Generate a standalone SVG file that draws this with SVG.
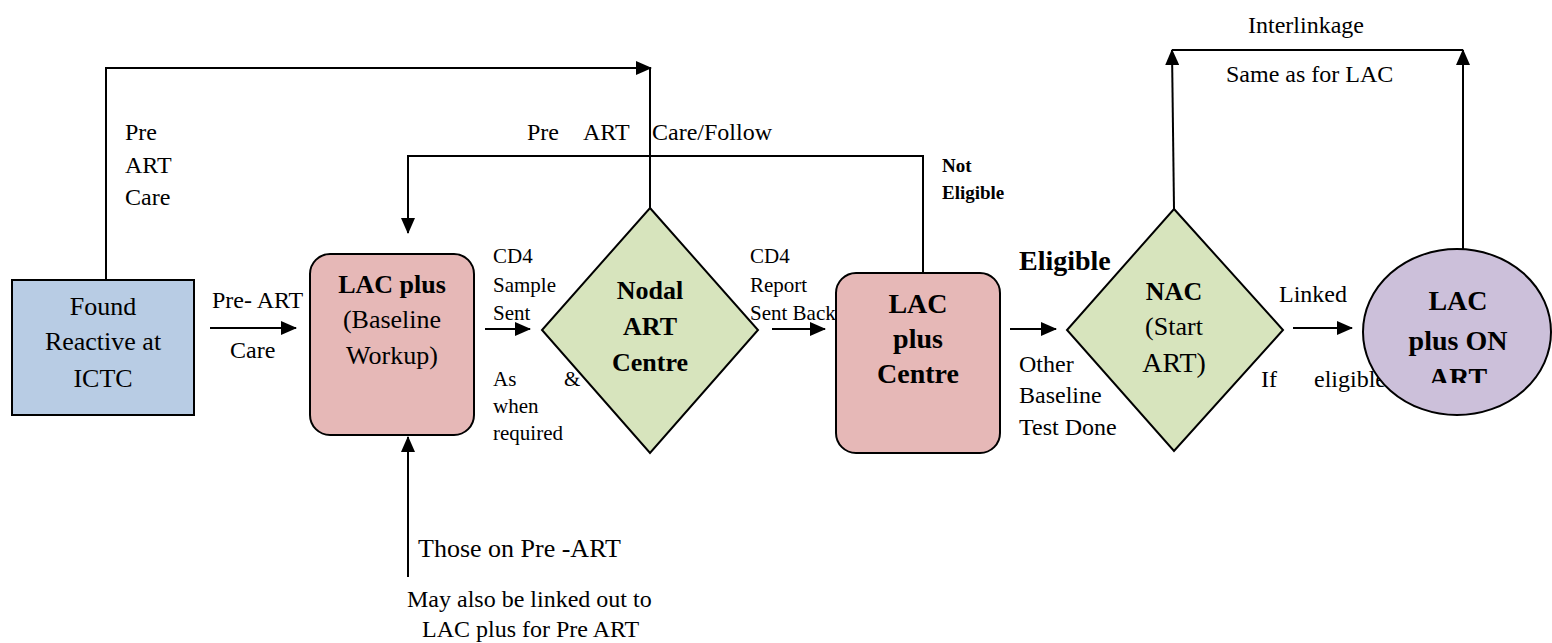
<svg xmlns="http://www.w3.org/2000/svg" width="1552" height="643" viewBox="0 0 1552 643" font-family="'Liberation Serif', 'DejaVu Serif', 'Times New Roman', serif">
<style>
text{font-family:'Liberation Serif','DejaVu Serif','Times New Roman',serif;fill:#000}
.t24{font-size:24px}
.t21{font-size:21px}
.b{font-weight:bold}
.c{text-anchor:middle}
.shape{stroke:#000;stroke-width:2}
.conn{fill:none;stroke:#000;stroke-width:2}
</style>
<defs>
<marker id="arr" viewBox="0 0 16 14" refX="15" refY="7" markerWidth="16" markerHeight="14" markerUnits="userSpaceOnUse" orient="auto">
<path d="M0,0 L16,7 L0,14 z" fill="#000"/>
</marker>
<clipPath id="clipART"><rect x="1360" y="240" width="200" height="143"/></clipPath>
</defs>
<rect width="1552" height="643" fill="#fff"/>

<g id="labels">
<text class="t24" x="125" y="140">Pre</text>
<text class="t24" x="125" y="173">ART</text>
<text class="t24" x="125" y="205">Care</text>
<text class="t24" x="527" y="140">Pre</text>
<text class="t24" x="583" y="140">ART</text>
<text class="t24" x="652" y="140">Care/Follow</text>
<text class="t24" x="212" y="308">Pre- ART</text>
<text class="t24" x="230" y="358">Care</text>
<text class="t21" x="493" y="263">CD4</text>
<text class="t21" x="493" y="292">Sample</text>
<text class="t21" x="493" y="320">Sent</text>
<text class="t21" x="493" y="386">As</text>
<text class="t21" x="564" y="386">&amp;</text>
<text class="t21" x="493" y="413">when</text>
<text class="t21" x="493" y="440">required</text>
<text class="t21" x="750" y="263">CD4</text>
<text class="t21" x="750" y="292">Report</text>
<text class="t21" x="750" y="320">Sent Back</text>
<text class="b" font-size="19" x="942" y="172">Not</text>
<text class="b" font-size="19" x="942" y="199">Eligible</text>
<text class="b" font-size="28" x="1019" y="270">Eligible</text>
<text class="t24" x="1019" y="372">Other</text>
<text class="t24" x="1019" y="403">Baseline</text>
<text class="t24" x="1019" y="435">Test Done</text>
<text class="t24" x="1248" y="33">Interlinkage</text>
<text class="t24" x="1226" y="82">Same as for LAC</text>
<text class="t24" x="1279" y="302">Linked</text>
<text class="t24" x="1261" y="387">If</text>
<text class="t24" x="1314" y="387">eligible</text>
<text class="t24" x="418" y="557" style="font-size:26px">Those on Pre -ART</text>
<text class="t24" x="407" y="607">May also be linked out to</text>
<text class="t24" x="422" y="637">LAC plus for Pre ART</text>
</g>

<g id="connectors">
<path class="conn" d="M106,280 L106,68 L651,68" marker-end="url(#arr)"/>
<path class="conn" d="M650,208 L650,68"/>
<path class="conn" d="M923,273 L923,156 L408,156 L408,233" marker-end="url(#arr)"/>
<path class="conn" d="M210,328 L296,328" marker-end="url(#arr)"/>
<path class="conn" d="M485,329 L530,329" marker-end="url(#arr)"/>
<path class="conn" d="M772,329 L825,329" marker-end="url(#arr)"/>
<path class="conn" d="M1010,329 L1056,329" marker-end="url(#arr)"/>
<path class="conn" d="M1293,328 L1352,328" marker-end="url(#arr)"/>
<path class="conn" d="M408,577 L408,437" marker-end="url(#arr)"/>
<path class="conn" d="M1174,209 L1172,50" marker-end="url(#arr)"/>
<path class="conn" d="M1172,50 L1463,50"/>
<path class="conn" d="M1463,250 L1463,50" marker-end="url(#arr)"/>
</g>

<g id="node-found">
<rect class="shape" x="12" y="280" width="182" height="135" fill="#b8cce4"/>
<text class="c" font-size="26" x="103" y="315">Found</text>
<text class="c" font-size="26" x="103" y="350">Reactive at</text>
<text class="c" font-size="26" x="103" y="387">ICTC</text>
</g>

<g id="node-lac-baseline">
<rect class="shape" x="310" y="254" width="164" height="181" rx="20" ry="20" fill="#e6b8b7"/>
<text class="c b" font-size="26" x="392" y="293">LAC plus</text>
<text class="c" font-size="26" x="392" y="328">(Baseline</text>
<text class="c" font-size="26" x="392" y="364">Workup)</text>
</g>

<g id="node-nodal">
<polygon class="shape" points="650,208 758,330 650,453 542,330" fill="#d7e4bd"/>
<text class="c b" font-size="26" x="650" y="299">Nodal</text>
<text class="c b" font-size="26" x="650" y="335">ART</text>
<text class="c b" font-size="26" x="650" y="371">Centre</text>
</g>

<g id="node-lac-centre">
<rect class="shape" x="836" y="273" width="164" height="180" rx="20" ry="20" fill="#e6b8b7"/>
<text class="c b" font-size="28" x="918" y="313">LAC</text>
<text class="c b" font-size="28" x="918" y="348">plus</text>
<text class="c b" font-size="28" x="918" y="383">Centre</text>
</g>

<g id="node-nac">
<polygon class="shape" points="1174,209 1283,330 1174,451 1067,330" fill="#d7e4bd"/>
<text class="c b" font-size="26" x="1174" y="300">NAC</text>
<text class="c" font-size="26" x="1174" y="335">(Start</text>
<text class="c" font-size="28" x="1174" y="372">ART)</text>
</g>

<g id="node-lac-on-art">
<ellipse class="shape" cx="1457" cy="332" rx="94" ry="83" fill="#ccc0da"/>
<text class="c b" font-size="28" x="1458" y="310">LAC</text>
<text class="c b" font-size="28" x="1458" y="350">plus ON</text>
<text class="c b" font-size="28" x="1458" y="387" clip-path="url(#clipART)">ART</text>
</g>
</svg>
